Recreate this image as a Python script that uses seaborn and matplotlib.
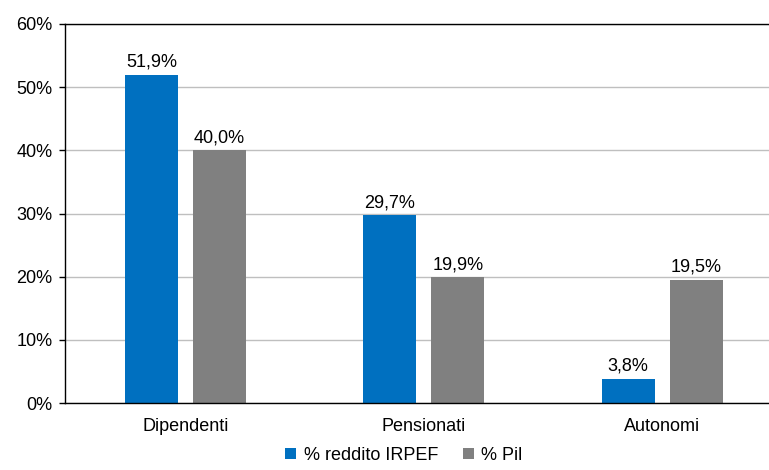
import matplotlib
matplotlib.use("Agg")
import matplotlib.pyplot as plt
import matplotlib.ticker as mticker
import pandas as pd
import seaborn as sns

categories = ["Dipendenti", "Pensionati", "Autonomi"]
series_names = ["% reddito IRPEF", "% Pil"]
irpef = [51.9, 29.7, 3.8]
pil = [40.0, 19.9, 19.5]
colors = ["#0070C0", "#808080"]

df = pd.DataFrame({
    "categoria": categories * 2,
    "serie": [series_names[0]] * 3 + [series_names[1]] * 3,
    "valore": irpef + pil,
})

sns.set_style("white")
plt.rcParams["font.family"] = ["Liberation Sans", "DejaVu Sans"]
plt.rcParams["text.color"] = "black"
plt.rcParams["xtick.color"] = "black"
plt.rcParams["ytick.color"] = "black"

FS = 13

fig = plt.figure(figsize=(7.69, 4.70), dpi=100)
ax = fig.add_axes([65 / 769, 67 / 470, (780 - 65) / 769, 379 / 470])

sns.barplot(ax=ax, data=df, x="categoria", y="valore", hue="serie",
            palette=colors, width=0.571, gap=0.22, saturation=1, linewidth=0)

for cont in ax.containers:
    ax.bar_label(cont, labels=[f"{v:.1f}%".replace(".", ",") for v in cont.datavalues],
                 padding=3, fontsize=FS)

ax.set_ylim(0, 60)
ax.set_xlim(-0.506, 2.494)
ax.yaxis.set_major_locator(mticker.MultipleLocator(10))
ax.yaxis.set_major_formatter(mticker.FuncFormatter(lambda v, p: f"{v:.0f}%"))
ax.yaxis.grid(True, color="#BFBFBF", linewidth=1)
ax.set_axisbelow(True)
ax.tick_params(axis="y", left=True, length=4, width=1, labelsize=FS, pad=5)
ax.tick_params(axis="x", bottom=False, labelsize=FS, pad=7)
ax.set_xlabel("")
ax.set_ylabel("")
for s in ax.spines.values():
    s.set_color("black")
    s.set_linewidth(1)

ax.legend(loc="lower center", ncol=2, frameon=False, fontsize=FS,
          handlelength=0.6, handleheight=0.6, handletextpad=0.4, columnspacing=1.4,
          borderpad=0.1)
leg = ax.get_legend()
leg.set_bbox_to_anchor((404 / 769, -0.01), transform=fig.transFigure)

fig.savefig("out.png", dpi=100)
